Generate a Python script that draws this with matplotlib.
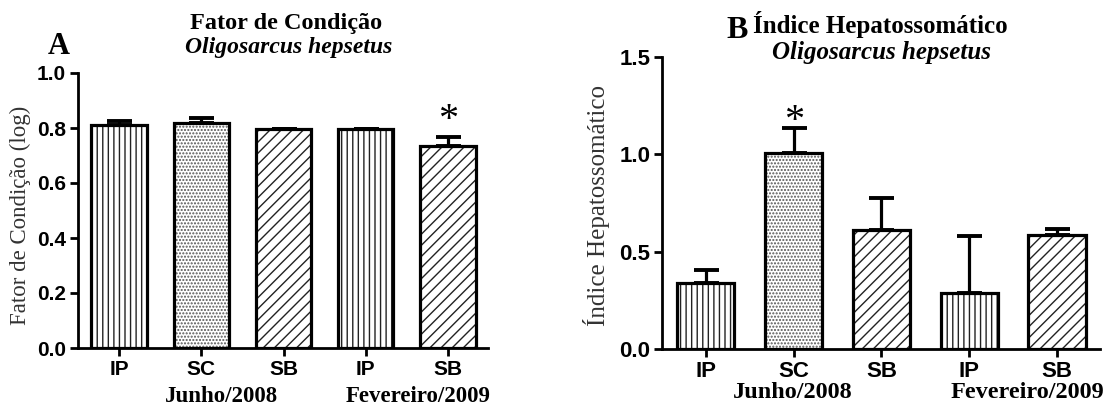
import numpy as np
import matplotlib
matplotlib.use("Agg")
import matplotlib.pyplot as plt

plt.rcParams['hatch.linewidth'] = 1.0

# sites and groups
sites = ['IP', 'SC', 'SB', 'IP', 'SB']
groups = ['Junho/2008', 'Fevereiro/2009']
hatches = ['|||', '.....', '///', '|||', '///']

# A: condition factor (log), mean and upper error
fc_mean = [0.81, 0.82, 0.797, 0.797, 0.733]
fc_err = [0.015, 0.015, 0.0, 0.0, 0.035]
fc_star = 4

# B: hepatosomatic index
ihs_mean = [0.34, 1.005, 0.61, 0.29, 0.585]
ihs_err = [0.065, 0.13, 0.165, 0.29, 0.032]
ihs_star = 1

serif = 'Liberation Serif'
sans = 'Liberation Sans'
W, H = 1117, 405

fig = plt.figure(figsize=(11.17, 4.05), dpi=100)
axA = fig.add_axes([77.5 / W, 1 - 348 / H, 410.5 / W, 275 / H])
axB = fig.add_axes([662 / W, 1 - 349 / H, 438 / W, 292 / H])


def draw(ax, mean, err, star, star_off, ylim, yticks, xlim, width, fs):
    x = np.arange(len(mean))
    for i in range(len(mean)):
        ec = '#555555' if hatches[i].startswith('.') else '#222222'
        ax.bar(x[i], mean[i], width=width, color='white', edgecolor=ec,
               hatch=hatches[i], linewidth=0, zorder=2)
        ax.bar(x[i], mean[i], width=width, color='none', edgecolor='black',
               linewidth=2.3, zorder=3)
    lower = np.zeros(len(err))
    ax.errorbar(x, mean, yerr=[lower, err], fmt='none', ecolor='black',
                elinewidth=2.3, capsize=9, capthick=2.8, zorder=1)
    ax.annotate('*', (x[star], mean[star] + err[star]), xytext=(0, star_off),
                textcoords='offset points', ha='center', va='center',
                fontsize=29, family=serif)
    ax.set_xlim(*xlim)
    ax.set_ylim(*ylim)
    ax.set_yticks(yticks)
    ax.set_yticklabels(['%.1f' % t for t in yticks], fontsize=fs,
                       fontweight='bold', family=sans)
    ax.set_xticks(x)
    ax.set_xticklabels(sites, fontsize=fs, fontweight='bold', family=sans)
    ax.spines['top'].set_visible(False)
    ax.spines['right'].set_visible(False)
    ax.spines['left'].set_linewidth(2)
    ax.spines['bottom'].set_linewidth(2)
    ax.tick_params(width=2, length=5.5, pad=3)


draw(axA, fc_mean, fc_err, fc_star, 12, (0, 1.0),
     [0.0, 0.2, 0.4, 0.6, 0.8, 1.0], (-0.505, 4.486), 0.67, 15)
draw(axB, ihs_mean, ihs_err, ihs_star, 5, (0, 1.5),
     [0.0, 0.5, 1.0, 1.5], (-0.501, 4.49), 0.65, 16)

# y labels
fig.text(20 / W, 1 - 215 / H, 'Fator de Condição (log)', rotation=90,
         ha='center', va='center', family=serif, fontsize=16.5, color='#333333')
fig.text(596 / W, 1 - 206 / H, 'Índice Hepatossomático', rotation=90,
         ha='center', va='center', family=serif, fontsize=18, color='#333333')

# titles and panel letters
fig.text(286 / W, 1 - 23 / H, 'Fator de Condição', ha='center', va='center',
         family=serif, fontweight='bold', fontsize=17.5)
fig.text(289 / W, 1 - 48 / H, 'Oligosarcus hepsetus', ha='center', va='center',
         family=serif, fontweight='bold', style='italic', fontsize=17)
fig.text(59 / W, 1 - 47 / H, 'A', ha='center', va='center',
         family=serif, fontweight='bold', fontsize=22)
fig.text(880 / W, 1 - 24 / H, 'Índice Hepatossomático', ha='center', va='center',
         family=serif, fontweight='bold', fontsize=18)
fig.text(882 / W, 1 - 53 / H, 'Oligosarcus hepsetus', ha='center', va='center',
         family=serif, fontweight='bold', style='italic', fontsize=18)
fig.text(737 / W, 1 - 30 / H, 'B', ha='center', va='center',
         family=serif, fontweight='bold', fontsize=23)

# group labels under the ticks
fig.text(221 / W, 1 - 396 / H, groups[0], ha='center', va='center',
         family=serif, fontweight='bold', fontsize=16.5)
fig.text(418 / W, 1 - 396 / H, groups[1], ha='center', va='center',
         family=serif, fontweight='bold', fontsize=16.5)
fig.text(793 / W, 1 - 393 / H, groups[0], ha='center', va='center',
         family=serif, fontweight='bold', fontsize=17.5)
fig.text(1027 / W, 1 - 393 / H, groups[1], ha='center', va='center',
         family=serif, fontweight='bold', fontsize=17.5)

fig.savefig('out.png', dpi=100)
